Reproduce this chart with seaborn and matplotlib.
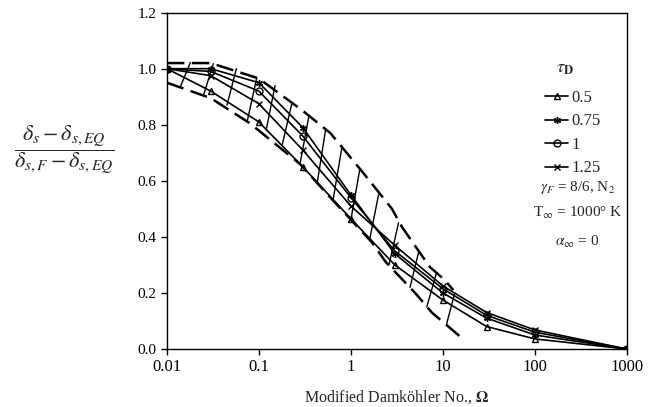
import numpy as np
import pandas as pd
import matplotlib
matplotlib.use('Agg')
import matplotlib.pyplot as plt
import seaborn as sns

# Damkohler number (x) and the four tau_D curves
omega = [0.01, 0.03, 0.1, 0.3, 1, 3, 10, 30, 100, 1000]
tau_labels = ['0.5', '0.75', '1', '1.25']
tau_05 = [1.0, 0.92, 0.81, 0.65, 0.465, 0.30, 0.175, 0.08, 0.036, 0.0]
tau_075 = [1.0, 1.0, 0.95, 0.79, 0.55, 0.34, 0.20, 0.11, 0.05, 0.0]
tau_1 = [1.0, 0.99, 0.92, 0.76, 0.54, 0.35, 0.215, 0.12, 0.06, 0.0]
tau_125 = [1.0, 0.975, 0.875, 0.71, 0.51, 0.37, 0.225, 0.13, 0.068, 0.0]
markers = ['^', (6, 2, 0), 'o', 'x']

# dashed envelopes of the band
upper_x = [0.01, 0.03, 0.1, 0.3, 0.6, 0.9, 1.35, 2.8, 3.6, 7.2, 10.5, 13]
upper_y = [1.02, 1.02, 0.965, 0.85, 0.77, 0.70, 0.63, 0.50, 0.435, 0.293, 0.246, 0.21]
lower_x = [0.01, 0.03, 0.08, 0.28, 0.64, 1.7, 2.4, 5, 7.6, 16]
lower_y = [0.95, 0.895, 0.805, 0.66, 0.53, 0.38, 0.31, 0.20, 0.13, 0.04]

# cross rungs between the envelopes
rung_lo_x = [0.014, 0.025, 0.045, 0.075, 0.12, 0.18, 0.28, 0.43, 0.64, 1.0, 1.6, 2.6, 4.4, 6.7, 11]
rung_lo_y = [0.935, 0.905, 0.87, 0.815, 0.78, 0.73, 0.66, 0.59, 0.53, 0.46, 0.39, 0.30, 0.22, 0.15, 0.09]
rung_hi_x = [0.018, 0.032, 0.057, 0.095, 0.15, 0.23, 0.35, 0.53, 0.8, 1.25, 2.0, 3.3, 5.5, 8.5, 13.5]
rung_hi_y = [1.022, 1.018, 1.0, 0.968, 0.94, 0.88, 0.83, 0.78, 0.72, 0.64, 0.55, 0.45, 0.35, 0.27, 0.20]

xticks = [0.01, 0.1, 1, 10, 100, 1000]
xtick_labels = ['0.01', '0.1', '1', '10', '100', '1000']
yticks = [0.0, 0.2, 0.4, 0.6, 0.8, 1.0, 1.2]

sns.set_theme(style='ticks')
plt.rcParams['font.family'] = ['Liberation Serif', 'DejaVu Serif']
plt.rcParams['mathtext.fontset'] = 'stix'

fig = plt.figure(figsize=(6.57, 4.07), dpi=100)
ax = fig.add_axes([0.254, 0.1425, 0.7, 0.8265])

# band
for xs, ys in [(upper_x, upper_y), (lower_x, lower_y)]:
    ax.plot(xs, ys, color='black', lw=1.8, linestyle=(0, (7, 3)))
for i in range(len(rung_lo_x)):
    ax.plot([rung_lo_x[i], rung_hi_x[i]], [rung_lo_y[i], rung_hi_y[i]],
            color='black', lw=1.0)

series = [tau_05, tau_075, tau_1, tau_125]
for lab, vals, mk in zip(tau_labels, series, markers):
    df = pd.DataFrame({'omega': omega, 'value': vals})
    sns.lineplot(data=df, x='omega', y='value', ax=ax, color='black', lw=1.2,
                 marker=mk, markersize=5, markerfacecolor='none',
                 markeredgecolor='black', markeredgewidth=1.0, label=lab)

ax.set_xscale('log')
ax.set_xlim(0.01, 1000)
ax.set_ylim(0, 1.2)
ax.set_xticks(xticks)
ax.set_xticklabels(xtick_labels)
ax.set_yticks(yticks)
ax.set_yticklabels([f'{v:.1f}' for v in yticks])
ax.minorticks_off()
ax.tick_params(direction='out', length=4, width=1, colors='black')
ax.tick_params(axis='x', labelsize=12)
ax.tick_params(axis='y', labelsize=11)
for s in ax.spines.values():
    s.set_visible(True)
    s.set_color('black')
    s.set_linewidth(1.0)

ax.set_xlabel('Modified Damköhler No., $\\mathbf{\\Omega}$', fontsize=11.5, labelpad=9)
ax.set_ylabel('')
fig.text(0.098, 0.632,
         r'$\dfrac{\delta_s-\delta_{s,EQ}}{\delta_{s,F}-\delta_{s,EQ}}$',
         fontsize=16, ha='center', va='center')

ax.text(0.866, 0.835, r'$\tau_\mathbf{D}$', transform=ax.transAxes,
        ha='center', va='center', fontsize=13)
leg = ax.legend(loc='upper left', bbox_to_anchor=(0.822, 0.77), frameon=False,
                fontsize=12, handlelength=1.4, handletextpad=0.2,
                labelspacing=0.45, borderaxespad=0, borderpad=0)

ax.text(0.893, 0.479, r'$\gamma_F$ = 8/6, N$_2$', transform=ax.transAxes,
        ha='center', va='center', fontsize=11)
ax.text(0.893, 0.404, r'T$_\infty$ = 1000° K', transform=ax.transAxes,
        ha='center', va='center', fontsize=11)
ax.text(0.893, 0.318, r'$\alpha_\infty$ = 0', transform=ax.transAxes,
        ha='center', va='center', fontsize=11)

fig.savefig('out.png', dpi=100)
